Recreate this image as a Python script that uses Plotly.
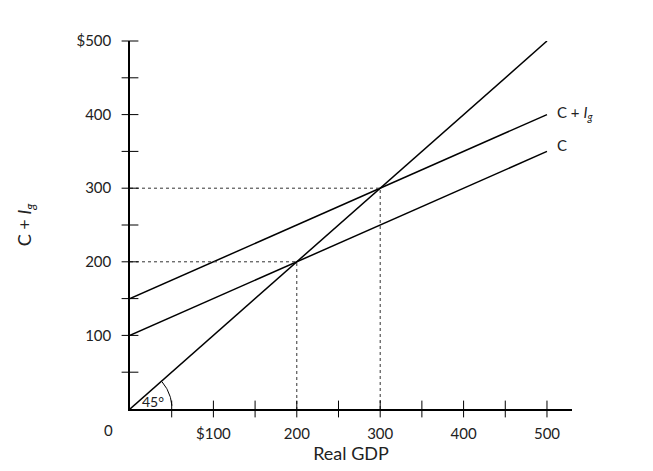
import plotly.graph_objects as go
import numpy as np

gdp = [0, 500]
line45 = [0, 500]
c_vals = [100, 350]
cig_vals = [150, 400]
xticks = [100, 200, 300, 400, 500]
xticktext = ["$100", "200", "300", "400", "500"]
yticks = [100, 200, 300, 400, 500]
yticktext = ["100", "200", "300", "400", "$500"]
minor = [50, 150, 250, 350, 450]
eq_x = [200, 300]
eq_y = [200, 300]

FONT = "Lato"
fig = go.Figure()
k = dict(mode="lines", line=dict(color="black", width=1.5), showlegend=False, hoverinfo="skip")
fig.add_trace(go.Scatter(x=gdp, y=line45, **k))
fig.add_trace(go.Scatter(x=gdp, y=c_vals, **k))
fig.add_trace(go.Scatter(x=gdp, y=cig_vals, **k))
for ex, ey in zip(eq_x, eq_y):
    fig.add_trace(go.Scatter(x=[0, ex, ex], y=[ey, ey, 0], mode="lines",
                             line=dict(color="#333", width=1, dash="3px,3px"),
                             showlegend=False, hoverinfo="skip"))
allx = sorted(xticks + minor)
fig.add_trace(go.Scatter(x=allx, y=[0]*len(allx), mode="markers", cliponaxis=False,
                         marker=dict(symbol="line-ns", size=12, line=dict(width=1, color="black")),
                         showlegend=False, hoverinfo="skip"))
fig.add_trace(go.Scatter(x=[0]*len(allx), y=allx, mode="markers", cliponaxis=False,
                         marker=dict(symbol="line-ew", size=12, line=dict(width=1, color="black")),
                         showlegend=False, hoverinfo="skip"))
sx, sy = 83.3, 73.6
r = 42
th = np.linspace(0.08, np.pi/4 - 0.08, 30)
fig.add_trace(go.Scatter(x=r*np.cos(th)*100/sx, y=r*np.sin(th)*100/sy, mode="lines",
                         line=dict(color="black", width=1), showlegend=False, hoverinfo="skip"))

fig.update_layout(
    width=653, height=471, margin=dict(l=122, r=89, t=33, b=70, autoexpand=False),
    plot_bgcolor="white", paper_bgcolor="white",
    font=dict(family=FONT, size=15, color="#222"),
    xaxis=dict(range=[0, 530], showgrid=False, zeroline=False, showline=True, automargin=False,
               linecolor="black", linewidth=1.5, tickvals=xticks, ticktext=xticktext,
               ticks="", ticklabelstandoff=10,
               title=dict(text="Real GDP", standoff=4)),
    yaxis=dict(range=[0, 500], showgrid=False, zeroline=False, showline=True, automargin=False,
               linecolor="black", linewidth=1.5, tickvals=yticks, ticktext=yticktext,
               ticks="", ticklabelstandoff=14,
               title=dict(text="C + <i>I</i><sub><i>g</i></sub>", standoff=40)),
)
fig.add_annotation(x=0, y=0, xref="x", yref="y", text="0", showarrow=False,
                   xshift=-22, yshift=-21)
fig.add_annotation(x=500, y=400, text="C + <i>I</i><sub><i>g</i></sub>", showarrow=False,
                   xanchor="left", xshift=8, yshift=2)
fig.add_annotation(x=500, y=350, text="C", showarrow=False, xanchor="left", xshift=8, yshift=6)
fig.add_annotation(x=28, y=10, text="45°", showarrow=False, font=dict(size=14))
fig.write_html("out.html")
